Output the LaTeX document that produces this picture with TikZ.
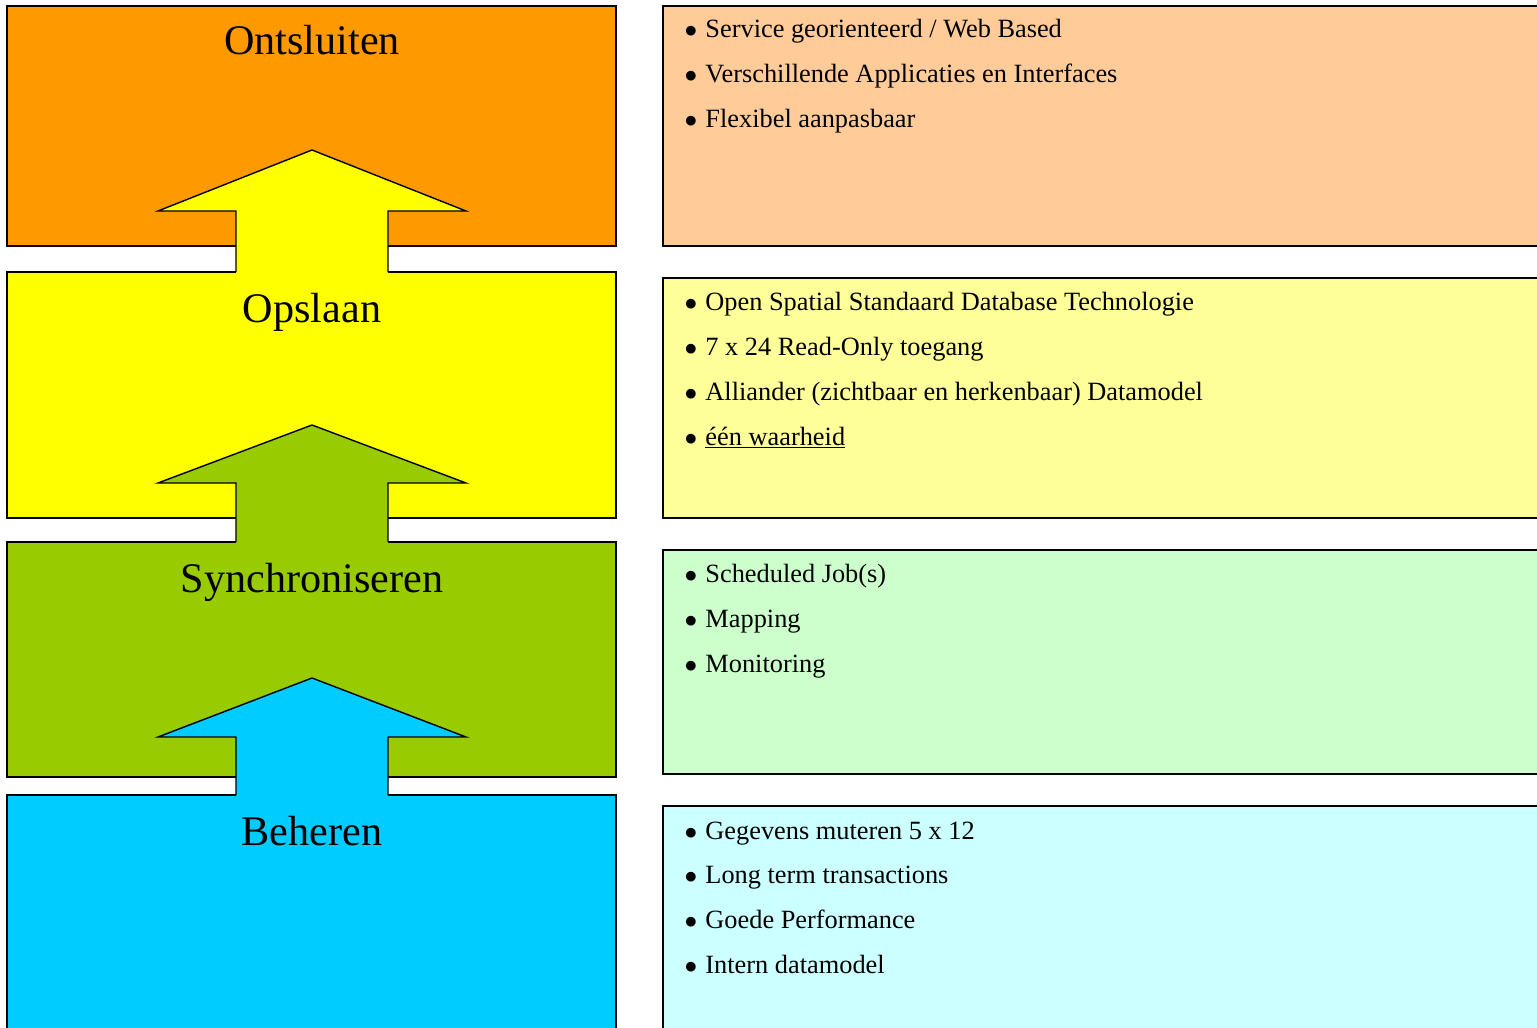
\documentclass[tikz,border=0pt]{standalone}
\usepackage{fontspec}
\setmainfont{Liberation Serif}
\definecolor{ontsluitkleur}{HTML}{FF9900}
\definecolor{opslaankleur}{HTML}{FFFF00}
\definecolor{synckleur}{HTML}{99CC00}
\definecolor{beheerkleur}{HTML}{00CCFF}
\definecolor{ontsluitlicht}{HTML}{FFCC99}
\definecolor{opslaanlicht}{HTML}{FFFF99}
\definecolor{synclicht}{HTML}{CCFFCC}
\definecolor{beheerlicht}{HTML}{CCFFFF}

\begin{document}
\begin{tikzpicture}[x=0.02cm,y=-0.02cm,line width=0.8pt,
    titel/.style={anchor=base,font=\fontsize{24}{28}\selectfont},
    punt/.style={anchor=base west,inner sep=0pt,font=\fontsize{15}{17}\selectfont}]
            \useasboundingbox (0,0) rectangle (1537,1027);

            % lagen links
            \draw[fill=ontsluitkleur] (7,6) rectangle (616,246);
            \draw[fill=opslaankleur] (7,272) rectangle (616,518);
            \draw[fill=synckleur] (7,542) rectangle (616,777);
            \draw[fill=beheerkleur] (7,795) rectangle (616,1040);

            % vlakken rechts
            \draw[fill=ontsluitlicht] (663,6) rectangle (1545,246);
            \draw[fill=opslaanlicht] (663,278) rectangle (1545,518);
            \draw[fill=synclicht] (663,550) rectangle (1545,774);
            \draw[fill=beheerlicht] (663,806) rectangle (1545,1040);

            % pijlen
            \foreach \tip/\vleugel/\voet/\kleur in {150/211/272/opslaankleur,425/483/542/synckleur,678/737/795/beheerkleur}
            {
                \fill[\kleur] (236,\voet+2) -- (236,\vleugel) -- (158,\vleugel) -- (312,\tip)
                    -- (466,\vleugel) -- (388,\vleugel) -- (388,\voet+2) -- cycle;
                \draw (236,\voet) -- (236,\vleugel) -- (158,\vleugel) -- (312,\tip)
                    -- (466,\vleugel) -- (388,\vleugel) -- (388,\voet);
            }

            % titels
            \node[titel] (ontsluiten) at (312,55) {Ontsluiten};
            \node[titel] (opslaan) at (312,322) {Opslaan};
            \node[titel] (synchroniseren) at (312,592) {Synchroniseren};
            \node[titel] (beheren) at (312,845) {Beheren};

            % punten
            \foreach \tekst [count=\i] in {Service georienteerd / Web Based,Verschillende Applicaties en Interfaces,Flexibel aanpasbaar}
                \node[punt] (ontsluiten-\i) at (684,{38+(\i-1)*45}) {\makebox[11.8pt][l]{$\bullet$}\tekst};
            \foreach \tekst [count=\i] in {Open Spatial Standaard Database Technologie,7 x 24 Read-Only toegang,Alliander (zichtbaar en herkenbaar) Datamodel,\underline{één waarheid}}
                \node[punt] (opslaan-\i) at (684,{310+(\i-1)*45}) {\makebox[11.8pt][l]{$\bullet$}\tekst};
            \foreach \tekst [count=\i] in {Scheduled Job(s),Mapping,Monitoring}
                \node[punt] (sync-\i) at (684,{582+(\i-1)*45}) {\makebox[11.8pt][l]{$\bullet$}\tekst};
            \foreach \tekst [count=\i] in {Gegevens muteren 5 x 12,Long term transactions,Goede Performance,Intern datamodel}
                \node[punt] (beheren-\i) at (684,{839+(\i-1)*44.7}) {\makebox[11.8pt][l]{$\bullet$}\tekst};
\end{tikzpicture}
\end{document}
